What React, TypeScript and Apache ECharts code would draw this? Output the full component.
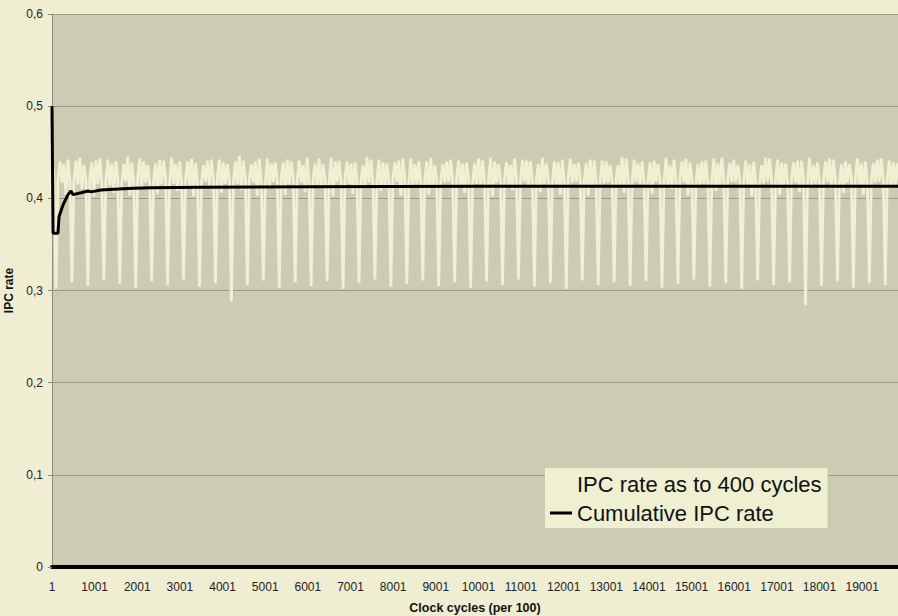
import React, { useEffect, useRef } from "react";
import * as echarts from "echarts";

// ---------- data ----------
const X_TICK_LABELS = [
  "1", "1001", "2001", "3001", "4001", "5001", "6001", "7001", "8001", "9001",
  "10001", "11001", "12001", "13001", "14001", "15001", "16001", "17001", "18001", "19001",
];
const Y_TICK_LABELS = ["0", "0,1", "0,2", "0,3", "0,4", "0,5", "0,6"];

const SERIES_NAMES = ["IPC rate as to 400 cycles", "Cumulative IPC rate"];

// sampling step (clock cycles / 100) of the windowed IPC series as drawn
const IPC400_STEP = 46.75;
// windowed IPC rate (one row ≈ one dip period)
const IPC400 = [
  0.440, 0.425,
  0.302, 0.421, 0.440, 0.417, 0.437, 0.404, 0.442, 0.419,
  0.309, 0.418, 0.441, 0.415, 0.444, 0.410, 0.436, 0.420,
  0.305, 0.423, 0.439, 0.402, 0.441, 0.416, 0.443, 0.417,
  0.311, 0.419, 0.442, 0.414, 0.438, 0.406, 0.440, 0.421,
  0.307, 0.416, 0.437, 0.418, 0.445, 0.403, 0.439, 0.418,
  0.303, 0.422, 0.443, 0.412, 0.440, 0.417, 0.436, 0.416,
  0.310, 0.420, 0.438, 0.405, 0.442, 0.415, 0.441, 0.422,
  0.306, 0.417, 0.444, 0.416, 0.437, 0.408, 0.440, 0.419,
  0.312, 0.421, 0.440, 0.413, 0.443, 0.402, 0.438, 0.417,
  0.304, 0.419, 0.436, 0.418, 0.441, 0.414, 0.442, 0.420,
  0.308, 0.423, 0.442, 0.406, 0.439, 0.416, 0.437, 0.418,
  0.288, 0.418, 0.440, 0.415, 0.446, 0.409, 0.441, 0.421,
  0.306, 0.420, 0.437, 0.417, 0.440, 0.403, 0.443, 0.416,
  0.311, 0.416, 0.443, 0.411, 0.438, 0.418, 0.439, 0.419,
  0.303, 0.422, 0.439, 0.404, 0.442, 0.415, 0.440, 0.422,
  0.309, 0.419, 0.441, 0.417, 0.436, 0.407, 0.444, 0.417,
  0.305, 0.421, 0.438, 0.414, 0.443, 0.412, 0.437, 0.420,
  0.310, 0.417, 0.444, 0.402, 0.440, 0.418, 0.441, 0.418,
  0.302, 0.423, 0.440, 0.416, 0.438, 0.405, 0.439, 0.421,
  0.308, 0.418, 0.436, 0.413, 0.445, 0.417, 0.442, 0.416,
  0.312, 0.420, 0.442, 0.408, 0.439, 0.414, 0.438, 0.419,
  0.304, 0.422, 0.439, 0.418, 0.441, 0.403, 0.443, 0.422,
  0.307, 0.416, 0.443, 0.415, 0.437, 0.416, 0.440, 0.417,
  0.311, 0.421, 0.440, 0.404, 0.444, 0.411, 0.436, 0.420,
  0.305, 0.419, 0.437, 0.417, 0.440, 0.418, 0.442, 0.418,
  0.309, 0.423, 0.441, 0.412, 0.438, 0.406, 0.439, 0.421,
  0.303, 0.417, 0.438, 0.416, 0.443, 0.415, 0.441, 0.416,
  0.310, 0.420, 0.444, 0.402, 0.440, 0.417, 0.437, 0.419,
  0.306, 0.422, 0.439, 0.414, 0.436, 0.409, 0.443, 0.422,
  0.312, 0.418, 0.442, 0.418, 0.441, 0.413, 0.440, 0.417,
  0.304, 0.421, 0.437, 0.407, 0.444, 0.416, 0.438, 0.420,
  0.308, 0.416, 0.440, 0.415, 0.439, 0.404, 0.442, 0.418,
  0.302, 0.423, 0.443, 0.417, 0.437, 0.418, 0.439, 0.421,
  0.311, 0.419, 0.438, 0.403, 0.442, 0.412, 0.441, 0.416,
  0.306, 0.420, 0.441, 0.416, 0.440, 0.417, 0.436, 0.419,
  0.309, 0.422, 0.436, 0.413, 0.445, 0.406, 0.443, 0.422,
  0.305, 0.417, 0.442, 0.418, 0.438, 0.415, 0.440, 0.417,
  0.310, 0.421, 0.439, 0.405, 0.441, 0.418, 0.437, 0.420,
  0.303, 0.418, 0.444, 0.414, 0.436, 0.410, 0.442, 0.418,
  0.307, 0.423, 0.440, 0.417, 0.443, 0.403, 0.439, 0.421,
  0.312, 0.416, 0.437, 0.412, 0.440, 0.416, 0.441, 0.416,
  0.304, 0.420, 0.443, 0.408, 0.438, 0.414, 0.444, 0.419,
  0.308, 0.422, 0.438, 0.418, 0.442, 0.417, 0.436, 0.422,
  0.302, 0.419, 0.441, 0.415, 0.437, 0.402, 0.440, 0.417,
  0.311, 0.417, 0.436, 0.416, 0.444, 0.418, 0.443, 0.420,
  0.306, 0.421, 0.442, 0.404, 0.439, 0.413, 0.438, 0.418,
  0.309, 0.423, 0.439, 0.417, 0.441, 0.407, 0.441, 0.421,
  0.284, 0.418, 0.444, 0.413, 0.436, 0.416, 0.439, 0.416,
  0.305, 0.420, 0.440, 0.418, 0.443, 0.411, 0.442, 0.419,
  0.310, 0.416, 0.437, 0.406, 0.440, 0.417, 0.437, 0.422,
  0.303, 0.422, 0.443, 0.415, 0.438, 0.404, 0.440, 0.417,
  0.308, 0.419, 0.438, 0.417, 0.442, 0.418, 0.443, 0.420,
  0.306, 0.421, 0.441, 0.412, 0.439, 0.414, 0.438, 0.418,
];

// cumulative IPC rate
const CUM_X = [0, 25, 140, 165, 260, 375, 445, 495, 680, 845, 915, 1150, 1550, 1920, 2320, 3500, 6000, 10000, 15000, 19840];
const CUM_Y = [0.5, 0.362, 0.362, 0.38, 0.393, 0.404, 0.408, 0.404, 0.406, 0.408, 0.407, 0.409, 0.41, 0.411, 0.4115, 0.412, 0.4125, 0.413, 0.413, 0.413];

const X_MAX = 19840;

export default function App() {
  const ref = useRef<HTMLDivElement>(null);

  useEffect(() => {
    if (!ref.current) return;
    const chart = echarts.init(ref.current, null, { renderer: "svg" });
    const font = "'Liberation Sans', Arial, Helvetica, sans-serif";

    const ipcData = IPC400.map((v, i) => [i * IPC400_STEP, v]);
    const cumData = CUM_X.map((x, i) => [x, CUM_Y[i]]);

    chart.setOption({
      animation: false,
      backgroundColor: "#efeed2",
      textStyle: { fontFamily: font },
      grid: {
        left: 52,
        right: 0,
        top: 14,
        bottom: 49,
        show: true,
        backgroundColor: "#cccbb3",
        borderWidth: 0,
        containLabel: false,
        outerBoundsMode: "none",
      },
      legend: {
        orient: "vertical",
        left: 545,
        top: 468,
        backgroundColor: "#efefd2",
        padding: [4, 6, 3, 5],
        icon: "rect",
        itemWidth: 22,
        itemHeight: 3,
        itemGap: 5,
        textStyle: { fontSize: 22, color: "#111", fontFamily: font, lineHeight: 24 },
        data: SERIES_NAMES,
      },
      xAxis: {
        type: "value",
        min: 0,
        max: X_MAX,
        interval: 1000,
        name: "Clock cycles (per 100)",
        nameLocation: "middle",
        nameGap: 34,
        nameTextStyle: { fontSize: 12.5, fontWeight: "bold", color: "#111", fontFamily: font },
        axisLine: { show: true, onZero: false, lineStyle: { color: "#000", width: 4 } },
        axisTick: { show: false },
        splitLine: { show: false },
        axisLabel: {
          fontSize: 12,
          color: "#222",
          margin: 14,
          showMaxLabel: false,
          formatter: (_v: number, i: number) => X_TICK_LABELS[i] ?? "",
        },
      },
      yAxis: {
        type: "value",
        min: 0,
        max: 0.6,
        interval: 0.1,
        name: "IPC rate",
        nameLocation: "middle",
        nameGap: 36,
        nameTextStyle: { fontSize: 12, fontWeight: "bold", color: "#111", fontFamily: font },
        axisLine: { show: true, lineStyle: { color: "#8d8c78", width: 1 } },
        axisTick: { show: true, length: 4, lineStyle: { color: "#8d8c78" } },
        splitLine: { show: true, lineStyle: { color: "#9c9b86", width: 1 } },
        axisLabel: {
          fontSize: 12,
          color: "#222",
          margin: 9,
          formatter: (_v: number, i: number) => Y_TICK_LABELS[i] ?? "",
        },
      },
      series: [
        {
          name: SERIES_NAMES[0],
          type: "line",
          symbol: "none",
          data: ipcData,
          lineStyle: { color: "#f1f0d2", width: 2.8, join: "bevel" },
          itemStyle: { color: "#efefd2" },
          z: 2,
        },
        {
          name: SERIES_NAMES[1],
          type: "line",
          symbol: "none",
          data: cumData,
          lineStyle: { color: "#000", width: 3 },
          itemStyle: { color: "#000" },
          z: 3,
        },
      ],
    });

    return () => chart.dispose();
  }, []);

  return <div ref={ref} style={{ width: 898, height: 616, position: "absolute", left: 0, top: 0 }} />;
}
